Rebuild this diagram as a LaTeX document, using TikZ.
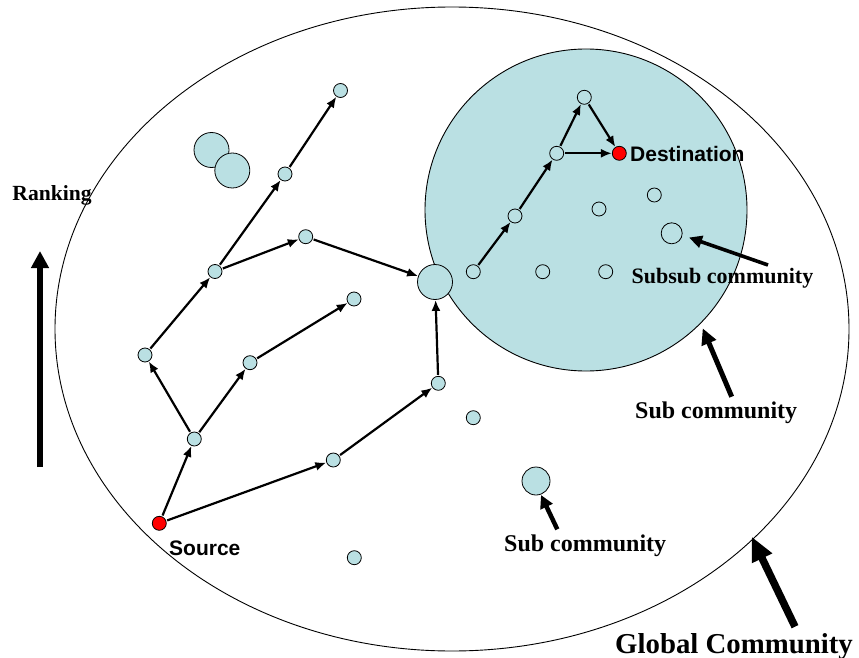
\documentclass[tikz,border=0pt]{standalone}
\usepackage{fontspec}
\setmainfont{Liberation Serif}
\newfontfamily\arialf{Liberation Sans}
\usetikzlibrary{arrows.meta}
\definecolor{lb}{RGB}{186,224,227}
\definecolor{rd}{RGB}{255,0,0}
\tikzset{
  dot/.style={circle,draw=black,line width=0.8pt,fill=lb,minimum size=14pt,inner sep=0pt},
  srcdot/.style={dot,fill=rd},
  bigdot/.style={dot,minimum size=35pt},
  midot/.style={dot,minimum size=21pt},
  sdot/.style={dot,minimum size=28pt},
  edge/.style={line width=2.2pt,-{Latex[length=11pt,width=9pt]},shorten <=1pt},
  sanslbl/.style={font=\arialf\bfseries\fontsize{21}{24}\selectfont,anchor=base west,inner sep=0pt},
  serlbl/.style={font=\bfseries\fontsize{22}{26}\selectfont,anchor=base west,inner sep=0pt},
}
\begin{document}
\begin{tikzpicture}[x=1pt,y=-1pt]
\useasboundingbox (0,0) rectangle (859,658);
% global community
\draw[line width=0.9pt] (452,329) ellipse [x radius=397, y radius=322];
% sub community
\draw[line width=0.9pt,fill=lb] (586,210) circle [radius=161];
% isolated circles
\node[bigdot] (c1) at (211.5,150) {};
\node[bigdot] (c2) at (232.3,170.5) {};
% nodes
\node[srcdot] (src) at (159.3,523.3) {};
\node[dot] (n1) at (194.3,439) {};
\node[dot] (n2) at (145,355) {};
\node[dot] (n3) at (215,271.5) {};
\node[dot] (n4) at (285,174) {};
\node[dot] (n5) at (340.5,90.5) {};
\node[dot] (n6) at (305.7,236.7) {};
\node[bigdot] (B) at (435,282) {};
\node[dot] (n7) at (250,362.7) {};
\node[dot] (n8) at (354,299) {};
\node[dot] (n9) at (333.3,460) {};
\node[dot] (n10) at (438.3,383.3) {};
\node[dot] (n11) at (473.3,417.7) {};
\node[dot] (n12) at (354.3,557.7) {};
\node[sdot] (sc) at (536,481) {};
% inside sub community
\node[dot] (s1) at (584.3,97.3) {};
\node[dot] (s2) at (556.7,153.3) {};
\node[dot] (s3) at (515,216) {};
\node[dot] (s4) at (473.3,271.7) {};
\node[dot] (s5) at (542.7,271.7) {};
\node[dot] (s6) at (605.7,271.7) {};
\node[dot] (s7) at (599,209) {};
\node[dot] (s8) at (654.3,195) {};
\node[midot] (ssc) at (671.7,233.3) {};
\node[srcdot] (dst) at (619.3,153.3) {};
% edges
\draw[edge] (src) -- (n1);
\draw[edge] (src) -- (n9);
\draw[edge] (n1) -- (n2);
\draw[edge] (n1) -- (n7);
\draw[edge] (n2) -- (n3);
\draw[edge] (n7) -- (n8);
\draw[edge] (n3) -- (n4);
\draw[edge] (n3) -- (n6);
\draw[edge] (n4) -- (n5);
\draw[edge] (n6) -- (B);
\draw[edge] (n9) -- (n10);
\draw[edge] (n10) -- (B);
\draw[edge] (s4) -- (s3);
\draw[edge] (s3) -- (s2);
\draw[edge] (s2) -- (s1);
\draw[edge] (s1) -- (dst);
\draw[edge] (s2) -- (dst);
% labels
\node[sanslbl] (lsrc) at (169,555) {Source};
\node[sanslbl] (ldst) at (630,161.7) {Destination};
\node[serlbl] (lss) at (631.5,283.3) {Subsub community};
\node[serlbl,font=\bfseries\fontsize{24}{28}\selectfont] (lsub1) at (635,418.3) {Sub community};
\node[serlbl,font=\bfseries\fontsize{24}{28}\selectfont] (lsub2) at (504,551.7) {Sub community};
\node[serlbl,font=\bfseries\fontsize{28.8}{32}\selectfont] (lglob) at (615,653.3) {Global Community};
\node[serlbl,font=\bfseries\fontsize{21.6}{26}\selectfont] (lrank) at (12.3,200) {Ranking};
% label arrows
\coordinate (a1s) at (768,265);
\coordinate (a1e) at (689,237.5);
\coordinate (a2s) at (731.7,396.7);
\coordinate (a2e) at (702.7,328.3);
\coordinate (a3s) at (557.3,529.3);
\coordinate (a3e) at (541,495);
\coordinate (a4s) at (795,626.7);
\coordinate (a4e) at (751.7,536.7);
\coordinate (a5s) at (40,467);
\coordinate (a5e) at (40,251);
\draw[line width=3.6pt,-{Triangle[length=13pt,width=12pt]}] (a1s) -- (a1e);
\draw[line width=5pt,-{Triangle[length=16pt,width=15pt]}] (a2s) -- (a2e);
\draw[line width=4.5pt,-{Triangle[length=13pt,width=13pt]}] (a3s) -- (a3e);
\draw[line width=7.5pt,-{Triangle[length=24pt,width=21pt]}] (a4s) -- (a4e);
\draw[line width=6.5pt,-{Triangle[length=17pt,width=17pt]}] (a5s) -- (a5e);
\end{tikzpicture}
\end{document}
